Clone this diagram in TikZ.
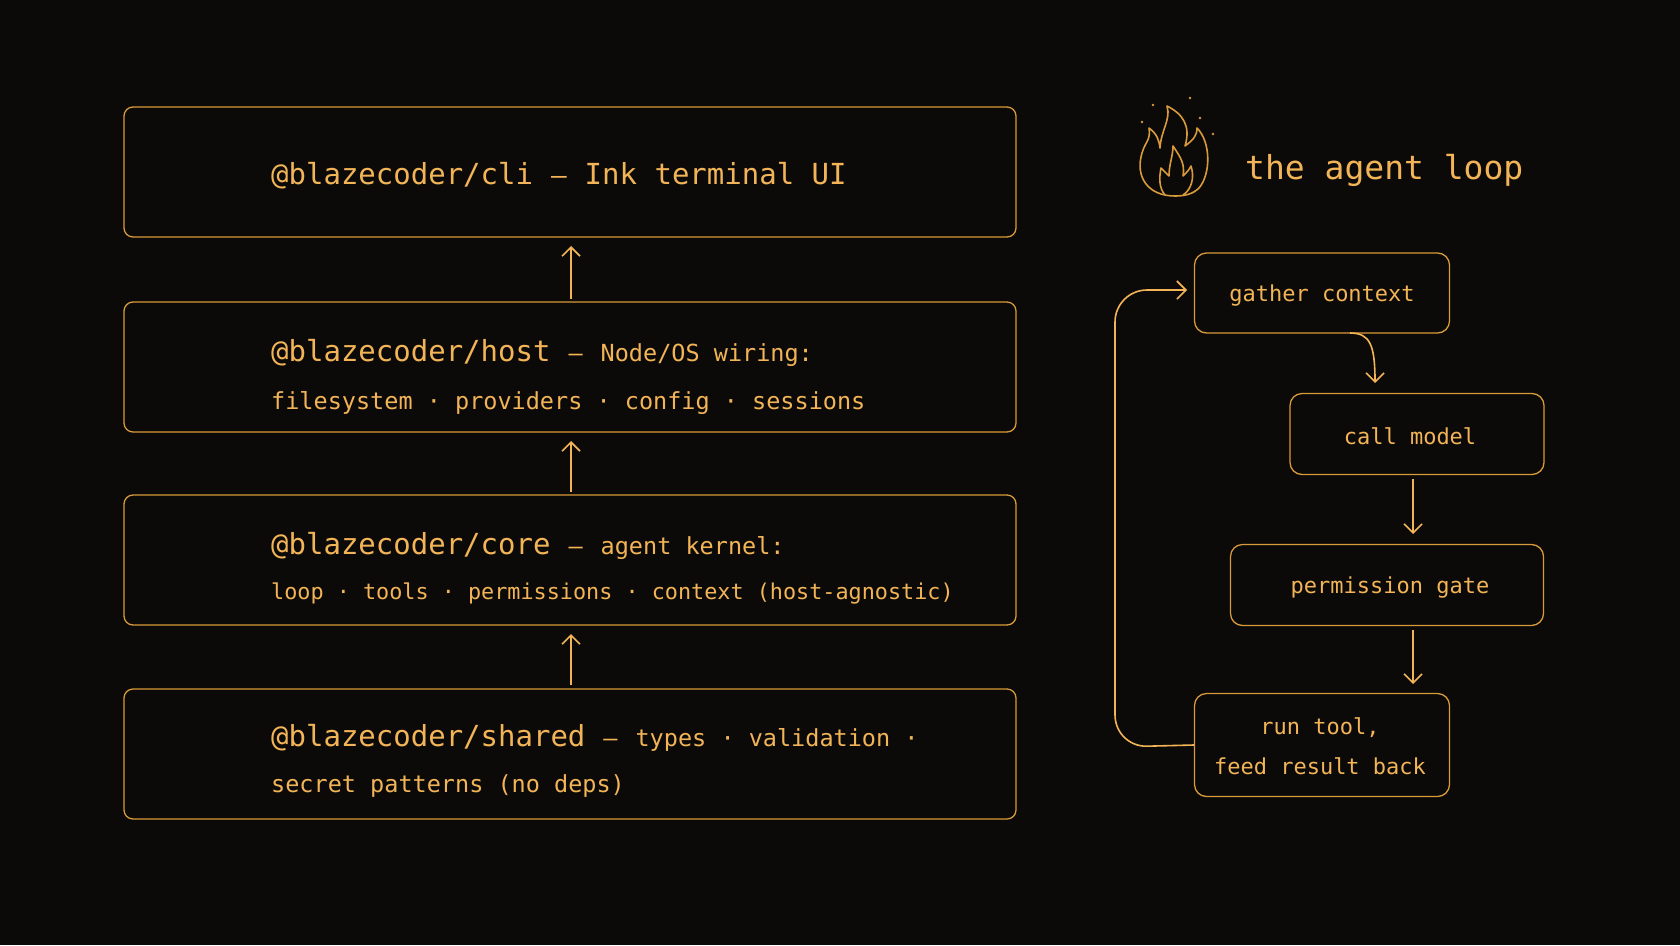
\documentclass[tikz,border=0pt]{standalone}
\usepackage{fontspec}
\setmonofont{DejaVu Sans Mono}
\usetikzlibrary{arrows.meta}
\definecolor{bgdark}{HTML}{0B0A09}
\definecolor{amber}{HTML}{D99A3A}
\definecolor{amberText}{HTML}{F2B457}
\tikzset{
  layer/.style={draw=amber, line width=1.3pt, rounded corners=9pt, minimum width=892pt, minimum height=130pt},
  loopstep/.style={draw=amber, line width=1.3pt, rounded corners=12pt, fill=bgdark},
  txt/.style={text=amberText, font=\ttfamily\fontsize{23.5}{30}\selectfont, inner sep=0pt},
  pkg/.style={text=amberText, font=\ttfamily\fontsize{29}{34}\selectfont, inner sep=0pt},
  up/.style={draw=amberText, line width=1.6pt, -{Straight Barb[length=9pt,width=18pt]}},
}
\newcommand{\sepdash}{\hspace{18pt}—\hspace{18pt}}
\begin{document}
\begin{tikzpicture}[x=1pt,y=1pt,yscale=-1]
\fill[bgdark] (0,0) rectangle (1680,945);

%Layer boxes
\node[layer] (cli) at (570,172) {};
\node[layer] (host) at (570,367) {};
\node[layer] (core) at (570,560) {};
\node[layer] (shared) at (570,754) {};

% Text Node
\node[pkg, anchor=base west] (tcli) at (271,184) {@blazecoder/cli{\fontsize{26}{30}\selectfont\sepdash}Ink terminal UI};
% Text Node
\node[pkg, anchor=base west] (thost) at (271,361) {@blazecoder/host{\fontsize{23.5}{30}\selectfont\sepdash Node/OS wiring:}};
\node[txt, anchor=base west] (thost2) at (271,409) {filesystem · providers · config · sessions};
% Text Node
\node[pkg, anchor=base west] (tcore) at (271,554) {@blazecoder/core{\fontsize{23.5}{30}\selectfont\sepdash agent kernel:}};
\node[txt, anchor=base west, font=\ttfamily\fontsize{21.8}{28}\selectfont] (tcore2) at (271,599) {loop · tools · permissions · context (host-agnostic)};
% Text Node
\node[pkg, anchor=base west] (tshared) at (271,746) {@blazecoder/shared{\fontsize{23.5}{30}\selectfont\sepdash types · validation ·}};
\node[txt, anchor=base west] (tshared2) at (271,792) {secret patterns (no deps)};

%Arrows between layers
\coordinate (h0) at (571,299); \coordinate (h1) at (571,246);
\coordinate (c0) at (571,492); \coordinate (c1) at (571,441);
\coordinate (s0) at (571,685); \coordinate (s1) at (571,634);
\draw[up] (h0) -- (h1);
\draw[up] (c0) -- (c1);
\draw[up] (s0) -- (s1);

%Flame icon
\begin{scope}[shift={(1175,150)}, draw=amber, line width=1.6pt, line join=round]
\draw (0,46) .. controls (-28,46) and (-40,26) .. (-33,3)
  .. controls (-30,-8) and (-24,-10) .. (-26,-22)
  .. controls (-18,-16) and (-16,-10) .. (-15,-2)
  .. controls (-14,-20) and (-4,-30) .. (-8,-44)
  .. controls (8,-36) and (16,-24) .. (10,-4)
  .. controls (18,-10) and (22,-14) .. (22,-22)
  .. controls (36,-8) and (36,24) .. (24,38)
  .. controls (18,44) and (10,46) .. (0,46);
\draw (-10,45) .. controls (-16,38) and (-16,28) .. (-14,18)
  .. controls (-10,22) and (-8,24) .. (-6,26)
  .. controls (-6,14) and (-2,6) .. (-2,-4)
  .. controls (6,8) and (10,14) .. (8,26)
  .. controls (12,22) and (14,20) .. (16,16)
  .. controls (20,28) and (16,40) .. (8,45);
\foreach \dx/\dy in {-33/-28, -22/-45, 25/-32, 15/-52, -7/-38, 38/-16}
  \fill[amber] (\dx,\dy) circle (1.3pt);
\end{scope}
% Text Node
\node[text=amberText, font=\ttfamily\fontsize{33}{38}\selectfont, inner sep=0pt, anchor=base west] (title) at (1245,179) {the agent loop};

%Loop steps
\node[loopstep, minimum width=255pt, minimum height=80pt] (gather) at (1322,293) {};
\node[txt, font=\ttfamily\fontsize{22}{28}\selectfont] (tgather) at (1322,296) {gather context};
\node[loopstep, minimum width=254pt, minimum height=81pt] (call) at (1417,434) {};
\node[txt, font=\ttfamily\fontsize{22}{28}\selectfont] (tcall) at (1410,436) {call model};
\node[loopstep, minimum width=313pt, minimum height=81pt] (gate) at (1387,585) {};
\node[txt, font=\ttfamily\fontsize{22}{28}\selectfont] (tgate) at (1390,587) {permission gate};
\node[loopstep, minimum width=255pt, minimum height=103pt] (run) at (1322,745) {};
\node[txt, font=\ttfamily\fontsize{22}{28}\selectfont, align=center] (trun) at (1320,746) {run tool,\\[12pt]feed result back};

%Loop connectors
\coordinate (g0) at (1350,333); \coordinate (g1) at (1375,383);
\coordinate (m0) at (1413,479); \coordinate (m1) at (1413,534);
\coordinate (p0) at (1413,630); \coordinate (p1) at (1413,684);
\coordinate (back) at (1187,290);
\draw[up] (g0) .. controls (1370,333) and (1375,345) .. (g1);
\draw[up] (m0) -- (m1);
\draw[up] (p0) -- (p1);
\draw[up, rounded corners=32pt] (run.west) -- (1115,747) -- (1115,290) -- (back);
\end{tikzpicture}
\end{document}
